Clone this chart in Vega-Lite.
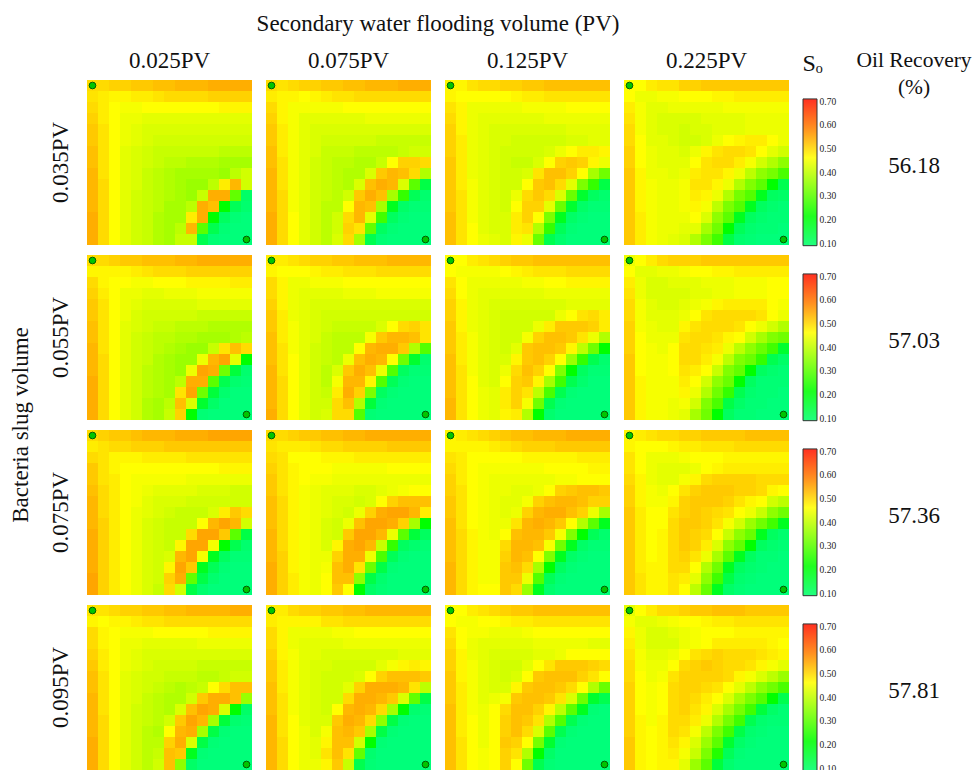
{
"$schema":"https://vega.github.io/schema/vega-lite/v6.json",
"padding":{"left":9,"top":13,"right":0,"bottom":0},
"background":"white",
"config":{"view":{"stroke":null},"font":"Liberation Serif","concat":{"spacing":13}},
"hconcat":[
{
"data":{"values":[
0.50,0.50,0.51,0.51,0.52,0.52,0.53,0.53,0.54,0.54,0.54,0.55,0.55,0.55,0.55,
0.49,0.48,0.47,0.47,0.48,0.48,0.49,0.50,0.50,0.50,0.50,0.51,0.51,0.51,0.51,
0.50,0.48,0.46,0.45,0.45,0.46,0.46,0.46,0.46,0.46,0.46,0.46,0.47,0.47,0.47,
0.51,0.48,0.46,0.44,0.44,0.43,0.43,0.43,0.43,0.43,0.43,0.43,0.43,0.43,0.43,
0.52,0.49,0.46,0.44,0.43,0.42,0.42,0.42,0.42,0.42,0.42,0.42,0.42,0.42,0.42,
0.52,0.49,0.46,0.44,0.43,0.42,0.41,0.41,0.41,0.41,0.41,0.41,0.41,0.41,0.41,
0.53,0.49,0.46,0.43,0.42,0.41,0.40,0.40,0.40,0.40,0.40,0.40,0.39,0.39,0.39,
0.53,0.49,0.46,0.43,0.42,0.41,0.40,0.39,0.39,0.38,0.38,0.38,0.37,0.37,0.37,
0.54,0.49,0.46,0.43,0.42,0.40,0.39,0.38,0.37,0.37,0.37,0.37,0.36,0.39,0.41,
0.54,0.50,0.46,0.43,0.42,0.40,0.39,0.38,0.37,0.36,0.36,0.39,0.48,0.54,0.41,
0.54,0.50,0.46,0.43,0.41,0.40,0.39,0.38,0.37,0.36,0.40,0.55,0.55,0.29,0.14,
0.54,0.50,0.46,0.43,0.41,0.40,0.39,0.37,0.37,0.39,0.55,0.53,0.22,0.16,0.13,
0.55,0.50,0.46,0.43,0.41,0.40,0.38,0.37,0.37,0.48,0.55,0.22,0.15,0.12,0.11,
0.55,0.50,0.46,0.43,0.41,0.40,0.38,0.37,0.39,0.54,0.28,0.17,0.12,0.11,0.11,
0.55,0.50,0.46,0.43,0.41,0.40,0.38,0.37,0.40,0.40,0.17,0.12,0.11,0.11,0.11,

0.50,0.49,0.50,0.51,0.51,0.52,0.52,0.53,0.53,0.54,0.54,0.54,0.55,0.55,0.55,
0.48,0.47,0.47,0.46,0.47,0.48,0.49,0.49,0.50,0.50,0.50,0.50,0.50,0.50,0.50,
0.50,0.47,0.45,0.45,0.45,0.45,0.45,0.46,0.46,0.46,0.46,0.46,0.46,0.46,0.46,
0.51,0.47,0.45,0.43,0.43,0.43,0.43,0.43,0.43,0.44,0.44,0.44,0.44,0.44,0.44,
0.52,0.48,0.45,0.43,0.42,0.42,0.42,0.42,0.42,0.42,0.42,0.42,0.42,0.42,0.42,
0.52,0.48,0.45,0.43,0.42,0.41,0.41,0.41,0.41,0.41,0.40,0.40,0.40,0.40,0.40,
0.53,0.48,0.45,0.43,0.42,0.40,0.40,0.40,0.39,0.39,0.39,0.39,0.40,0.41,0.41,
0.53,0.49,0.45,0.43,0.41,0.40,0.39,0.39,0.38,0.38,0.40,0.46,0.51,0.51,0.50,
0.54,0.49,0.45,0.43,0.41,0.40,0.39,0.38,0.38,0.42,0.52,0.54,0.53,0.50,0.38,
0.54,0.49,0.45,0.43,0.41,0.40,0.39,0.38,0.42,0.53,0.55,0.54,0.42,0.28,0.18,
0.54,0.50,0.45,0.43,0.41,0.40,0.39,0.41,0.52,0.55,0.53,0.37,0.24,0.16,0.13,
0.54,0.50,0.45,0.43,0.41,0.39,0.39,0.46,0.54,0.53,0.37,0.21,0.14,0.12,0.12,
0.55,0.50,0.46,0.43,0.41,0.39,0.41,0.50,0.54,0.43,0.25,0.15,0.12,0.11,0.11,
0.55,0.50,0.46,0.43,0.41,0.39,0.41,0.51,0.49,0.29,0.15,0.12,0.11,0.11,0.11,
0.55,0.50,0.46,0.43,0.41,0.39,0.42,0.50,0.37,0.17,0.12,0.11,0.11,0.11,0.11,

0.47,0.47,0.49,0.50,0.50,0.51,0.51,0.52,0.52,0.53,0.53,0.53,0.53,0.53,0.53,
0.47,0.46,0.46,0.46,0.46,0.46,0.47,0.48,0.48,0.49,0.49,0.49,0.49,0.49,0.49,
0.49,0.47,0.44,0.44,0.44,0.44,0.44,0.45,0.45,0.45,0.45,0.46,0.46,0.46,0.46,
0.50,0.47,0.44,0.43,0.43,0.43,0.43,0.43,0.43,0.44,0.44,0.44,0.44,0.44,0.44,
0.51,0.47,0.44,0.43,0.42,0.42,0.42,0.42,0.42,0.42,0.42,0.43,0.43,0.43,0.43,
0.51,0.48,0.44,0.43,0.42,0.42,0.41,0.41,0.41,0.41,0.41,0.42,0.42,0.43,0.43,
0.51,0.48,0.44,0.43,0.42,0.41,0.41,0.41,0.41,0.42,0.44,0.46,0.48,0.48,0.47,
0.52,0.48,0.44,0.43,0.42,0.41,0.40,0.40,0.42,0.46,0.51,0.52,0.51,0.47,0.44,
0.52,0.48,0.44,0.43,0.42,0.41,0.41,0.42,0.49,0.53,0.53,0.51,0.46,0.37,0.31,
0.52,0.48,0.45,0.43,0.42,0.41,0.41,0.46,0.52,0.53,0.50,0.43,0.33,0.24,0.18,
0.52,0.49,0.45,0.43,0.42,0.41,0.44,0.50,0.52,0.50,0.42,0.30,0.20,0.15,0.13,
0.52,0.49,0.45,0.43,0.42,0.41,0.46,0.51,0.51,0.43,0.30,0.20,0.14,0.12,0.12,
0.53,0.49,0.45,0.43,0.42,0.42,0.48,0.51,0.46,0.33,0.21,0.14,0.12,0.11,0.11,
0.53,0.49,0.46,0.43,0.42,0.42,0.48,0.49,0.38,0.24,0.16,0.12,0.11,0.11,0.11,
0.53,0.49,0.46,0.44,0.43,0.42,0.47,0.44,0.30,0.17,0.13,0.11,0.11,0.11,0.11,

0.46,0.46,0.48,0.49,0.49,0.51,0.51,0.52,0.52,0.52,0.52,0.52,0.52,0.52,0.52,
0.46,0.44,0.44,0.45,0.45,0.46,0.46,0.46,0.47,0.47,0.48,0.48,0.48,0.48,0.48,
0.48,0.45,0.43,0.43,0.44,0.44,0.44,0.44,0.44,0.45,0.45,0.45,0.45,0.45,0.45,
0.49,0.45,0.43,0.42,0.42,0.42,0.42,0.43,0.43,0.43,0.43,0.44,0.44,0.44,0.44,
0.50,0.45,0.43,0.42,0.42,0.41,0.42,0.42,0.43,0.43,0.43,0.44,0.44,0.44,0.44,
0.50,0.46,0.43,0.43,0.42,0.41,0.41,0.42,0.44,0.46,0.47,0.48,0.48,0.46,0.44,
0.51,0.46,0.44,0.43,0.43,0.42,0.44,0.47,0.49,0.50,0.50,0.49,0.46,0.43,0.41,
0.51,0.46,0.44,0.43,0.43,0.43,0.46,0.49,0.50,0.50,0.48,0.45,0.41,0.38,0.35,
0.52,0.47,0.44,0.44,0.43,0.44,0.48,0.49,0.49,0.47,0.44,0.39,0.35,0.32,0.26,
0.52,0.47,0.45,0.44,0.44,0.45,0.49,0.49,0.47,0.44,0.38,0.34,0.28,0.22,0.17,
0.52,0.47,0.45,0.44,0.44,0.45,0.48,0.47,0.44,0.38,0.32,0.27,0.21,0.15,0.14,
0.52,0.47,0.45,0.44,0.44,0.45,0.47,0.45,0.39,0.33,0.27,0.21,0.15,0.13,0.12,
0.52,0.48,0.45,0.44,0.44,0.44,0.46,0.42,0.35,0.28,0.21,0.15,0.13,0.12,0.12,
0.52,0.48,0.45,0.44,0.44,0.43,0.43,0.37,0.31,0.22,0.16,0.13,0.12,0.12,0.11,
0.52,0.48,0.45,0.44,0.43,0.42,0.38,0.33,0.25,0.18,0.13,0.12,0.11,0.11,0.11,

0.50,0.50,0.51,0.52,0.52,0.53,0.53,0.53,0.54,0.54,0.55,0.55,0.55,0.55,0.55,
0.47,0.47,0.47,0.47,0.48,0.49,0.50,0.50,0.50,0.51,0.51,0.51,0.51,0.51,0.51,
0.50,0.47,0.46,0.46,0.45,0.45,0.46,0.46,0.46,0.47,0.47,0.47,0.47,0.48,0.48,
0.51,0.48,0.46,0.44,0.44,0.43,0.43,0.44,0.44,0.44,0.45,0.45,0.45,0.45,0.45,
0.52,0.49,0.46,0.44,0.43,0.42,0.42,0.42,0.42,0.42,0.43,0.43,0.43,0.43,0.43,
0.52,0.49,0.46,0.44,0.42,0.41,0.41,0.41,0.41,0.41,0.40,0.40,0.40,0.40,0.40,
0.53,0.49,0.46,0.43,0.42,0.41,0.40,0.40,0.39,0.39,0.39,0.38,0.38,0.38,0.38,
0.53,0.49,0.46,0.43,0.41,0.40,0.39,0.39,0.38,0.38,0.37,0.37,0.37,0.38,0.39,
0.54,0.49,0.46,0.43,0.41,0.40,0.39,0.38,0.37,0.36,0.36,0.40,0.49,0.53,0.50,
0.54,0.50,0.46,0.43,0.41,0.40,0.38,0.37,0.36,0.36,0.44,0.54,0.56,0.43,0.22,
0.54,0.50,0.46,0.43,0.41,0.39,0.38,0.37,0.36,0.44,0.56,0.55,0.31,0.19,0.13,
0.55,0.50,0.46,0.43,0.41,0.39,0.38,0.37,0.39,0.55,0.55,0.28,0.17,0.13,0.12,
0.55,0.50,0.46,0.43,0.41,0.39,0.38,0.37,0.49,0.56,0.31,0.19,0.13,0.11,0.11,
0.55,0.50,0.46,0.43,0.41,0.38,0.37,0.39,0.53,0.42,0.20,0.14,0.11,0.11,0.11,
0.55,0.50,0.46,0.43,0.41,0.38,0.37,0.40,0.51,0.22,0.12,0.11,0.11,0.11,0.11,

0.48,0.48,0.49,0.50,0.51,0.51,0.52,0.52,0.53,0.53,0.53,0.54,0.54,0.54,0.54,
0.47,0.46,0.46,0.46,0.47,0.48,0.48,0.49,0.49,0.49,0.50,0.50,0.50,0.50,0.50,
0.50,0.47,0.44,0.44,0.45,0.45,0.45,0.46,0.46,0.46,0.46,0.46,0.46,0.46,0.46,
0.50,0.47,0.44,0.43,0.43,0.43,0.43,0.44,0.44,0.44,0.45,0.45,0.45,0.45,0.45,
0.51,0.47,0.44,0.43,0.42,0.42,0.42,0.42,0.42,0.42,0.42,0.42,0.42,0.42,0.42,
0.52,0.48,0.44,0.43,0.42,0.41,0.41,0.41,0.41,0.41,0.41,0.41,0.41,0.41,0.41,
0.52,0.48,0.45,0.43,0.42,0.41,0.40,0.40,0.40,0.40,0.42,0.46,0.50,0.51,0.49,
0.53,0.48,0.45,0.43,0.42,0.40,0.39,0.39,0.39,0.45,0.52,0.54,0.54,0.53,0.49,
0.53,0.49,0.45,0.43,0.41,0.40,0.39,0.39,0.46,0.54,0.55,0.55,0.52,0.38,0.27,
0.53,0.49,0.46,0.43,0.41,0.40,0.39,0.44,0.53,0.55,0.54,0.46,0.31,0.20,0.13,
0.54,0.49,0.46,0.43,0.41,0.39,0.42,0.52,0.55,0.53,0.44,0.27,0.15,0.12,0.12,
0.54,0.50,0.46,0.43,0.41,0.39,0.45,0.54,0.54,0.47,0.27,0.16,0.12,0.11,0.11,
0.54,0.50,0.46,0.43,0.41,0.40,0.48,0.55,0.51,0.33,0.15,0.12,0.11,0.11,0.11,
0.54,0.50,0.46,0.43,0.41,0.41,0.50,0.53,0.38,0.19,0.12,0.11,0.11,0.11,0.11,
0.55,0.50,0.46,0.43,0.41,0.42,0.50,0.50,0.27,0.12,0.11,0.11,0.11,0.11,0.11,

0.46,0.46,0.48,0.49,0.50,0.51,0.52,0.52,0.53,0.53,0.53,0.53,0.53,0.53,0.53,
0.46,0.45,0.45,0.45,0.45,0.46,0.47,0.48,0.49,0.49,0.49,0.50,0.50,0.50,0.50,
0.49,0.46,0.44,0.44,0.44,0.44,0.44,0.45,0.45,0.46,0.46,0.47,0.47,0.47,0.47,
0.50,0.46,0.44,0.43,0.43,0.43,0.43,0.43,0.43,0.44,0.44,0.44,0.44,0.44,0.44,
0.51,0.47,0.44,0.43,0.42,0.42,0.42,0.42,0.42,0.42,0.42,0.43,0.43,0.43,0.43,
0.51,0.47,0.44,0.43,0.42,0.41,0.41,0.41,0.41,0.41,0.44,0.46,0.49,0.50,0.48,
0.52,0.47,0.44,0.43,0.42,0.41,0.41,0.41,0.44,0.48,0.52,0.52,0.52,0.51,0.48,
0.52,0.48,0.45,0.43,0.42,0.41,0.41,0.45,0.51,0.53,0.53,0.52,0.49,0.44,0.38,
0.52,0.48,0.45,0.43,0.42,0.41,0.43,0.52,0.53,0.53,0.52,0.47,0.39,0.31,0.22,
0.53,0.48,0.45,0.43,0.42,0.42,0.47,0.52,0.53,0.51,0.46,0.36,0.24,0.17,0.13,
0.53,0.49,0.45,0.43,0.42,0.44,0.50,0.53,0.51,0.46,0.34,0.22,0.15,0.12,0.12,
0.53,0.49,0.46,0.43,0.42,0.46,0.51,0.52,0.47,0.37,0.25,0.17,0.13,0.11,0.11,
0.53,0.49,0.46,0.44,0.43,0.48,0.51,0.49,0.39,0.26,0.17,0.12,0.11,0.11,0.11,
0.54,0.49,0.46,0.44,0.43,0.48,0.51,0.45,0.31,0.17,0.12,0.11,0.11,0.11,0.11,
0.54,0.49,0.46,0.44,0.43,0.47,0.48,0.38,0.22,0.13,0.11,0.11,0.11,0.11,0.11,

0.44,0.46,0.48,0.50,0.51,0.51,0.51,0.52,0.52,0.52,0.52,0.52,0.52,0.52,0.52,
0.46,0.43,0.43,0.44,0.44,0.45,0.46,0.46,0.47,0.47,0.48,0.48,0.48,0.48,0.48,
0.48,0.44,0.42,0.42,0.43,0.43,0.43,0.44,0.44,0.44,0.45,0.45,0.45,0.46,0.46,
0.49,0.44,0.42,0.42,0.42,0.42,0.43,0.43,0.44,0.44,0.45,0.45,0.45,0.46,0.46,
0.50,0.45,0.43,0.42,0.42,0.43,0.44,0.45,0.47,0.48,0.48,0.48,0.48,0.46,0.45,
0.50,0.45,0.43,0.43,0.43,0.44,0.46,0.49,0.50,0.50,0.50,0.50,0.49,0.46,0.44,
0.51,0.45,0.44,0.43,0.43,0.47,0.49,0.50,0.50,0.50,0.49,0.46,0.44,0.41,0.38,
0.51,0.46,0.44,0.44,0.44,0.49,0.50,0.50,0.49,0.47,0.46,0.41,0.37,0.34,0.31,
0.51,0.46,0.45,0.44,0.46,0.50,0.50,0.49,0.48,0.44,0.39,0.35,0.30,0.25,0.20,
0.52,0.46,0.45,0.45,0.46,0.50,0.50,0.48,0.45,0.39,0.34,0.30,0.24,0.17,0.14,
0.52,0.46,0.45,0.45,0.46,0.49,0.48,0.46,0.40,0.34,0.29,0.22,0.15,0.13,0.12,
0.52,0.47,0.45,0.45,0.45,0.48,0.46,0.41,0.35,0.30,0.22,0.15,0.12,0.12,0.12,
0.52,0.47,0.45,0.45,0.45,0.47,0.44,0.38,0.31,0.24,0.17,0.13,0.12,0.12,0.11,
0.52,0.47,0.45,0.45,0.44,0.45,0.41,0.34,0.26,0.18,0.14,0.12,0.12,0.11,0.11,
0.52,0.47,0.45,0.45,0.44,0.43,0.37,0.31,0.22,0.15,0.12,0.12,0.11,0.11,0.11,

0.50,0.51,0.52,0.52,0.53,0.54,0.54,0.54,0.55,0.55,0.55,0.56,0.56,0.56,0.56,
0.48,0.49,0.50,0.50,0.51,0.51,0.51,0.52,0.52,0.52,0.52,0.52,0.52,0.52,0.52,
0.50,0.49,0.47,0.47,0.47,0.48,0.48,0.48,0.48,0.49,0.49,0.49,0.49,0.49,0.49,
0.52,0.49,0.47,0.46,0.46,0.46,0.46,0.46,0.46,0.46,0.46,0.46,0.47,0.47,0.47,
0.52,0.49,0.48,0.46,0.45,0.45,0.45,0.45,0.45,0.44,0.44,0.44,0.44,0.44,0.44,
0.53,0.50,0.48,0.46,0.45,0.44,0.43,0.43,0.43,0.43,0.42,0.42,0.42,0.41,0.41,
0.54,0.50,0.48,0.46,0.45,0.43,0.42,0.42,0.42,0.41,0.41,0.41,0.41,0.41,0.41,
0.54,0.50,0.48,0.46,0.44,0.43,0.42,0.41,0.40,0.40,0.40,0.42,0.48,0.52,0.50,
0.54,0.51,0.48,0.46,0.44,0.42,0.41,0.40,0.40,0.40,0.46,0.54,0.56,0.54,0.41,
0.55,0.51,0.48,0.46,0.44,0.42,0.41,0.40,0.40,0.50,0.56,0.56,0.52,0.28,0.18,
0.55,0.51,0.48,0.46,0.44,0.42,0.41,0.40,0.47,0.56,0.56,0.45,0.22,0.17,0.13,
0.55,0.51,0.48,0.46,0.44,0.42,0.41,0.42,0.54,0.56,0.45,0.21,0.15,0.12,0.12,
0.55,0.51,0.48,0.46,0.44,0.42,0.41,0.47,0.56,0.52,0.21,0.16,0.12,0.11,0.11,
0.56,0.51,0.48,0.46,0.44,0.42,0.41,0.51,0.55,0.29,0.18,0.13,0.11,0.11,0.11,
0.56,0.51,0.48,0.46,0.44,0.42,0.40,0.50,0.41,0.18,0.13,0.11,0.11,0.11,0.11,

0.50,0.50,0.51,0.52,0.52,0.53,0.53,0.54,0.54,0.55,0.55,0.55,0.55,0.55,0.55,
0.49,0.48,0.48,0.48,0.49,0.50,0.50,0.51,0.51,0.51,0.51,0.52,0.52,0.52,0.52,
0.50,0.49,0.46,0.46,0.46,0.47,0.47,0.47,0.48,0.48,0.48,0.48,0.48,0.48,0.48,
0.51,0.49,0.47,0.46,0.46,0.46,0.45,0.45,0.45,0.45,0.45,0.46,0.46,0.46,0.46,
0.52,0.49,0.47,0.46,0.45,0.45,0.44,0.44,0.44,0.44,0.44,0.44,0.44,0.44,0.44,
0.52,0.49,0.47,0.45,0.44,0.43,0.43,0.43,0.42,0.42,0.43,0.44,0.45,0.46,0.46,
0.53,0.50,0.47,0.45,0.44,0.43,0.42,0.42,0.41,0.42,0.46,0.51,0.53,0.53,0.53,
0.53,0.50,0.47,0.45,0.44,0.43,0.42,0.41,0.44,0.51,0.55,0.56,0.56,0.54,0.48,
0.53,0.50,0.47,0.45,0.44,0.42,0.41,0.44,0.53,0.56,0.56,0.55,0.51,0.37,0.22,
0.54,0.50,0.47,0.45,0.44,0.42,0.41,0.52,0.56,0.56,0.54,0.44,0.28,0.19,0.15,
0.54,0.50,0.47,0.45,0.44,0.42,0.47,0.55,0.56,0.54,0.40,0.24,0.15,0.13,0.12,
0.54,0.51,0.47,0.45,0.44,0.44,0.51,0.55,0.55,0.44,0.26,0.16,0.12,0.11,0.11,
0.55,0.51,0.47,0.45,0.44,0.45,0.53,0.55,0.49,0.30,0.18,0.12,0.11,0.11,0.11,
0.55,0.51,0.48,0.45,0.44,0.46,0.53,0.53,0.35,0.18,0.13,0.11,0.11,0.11,0.11,
0.55,0.51,0.48,0.45,0.44,0.46,0.52,0.46,0.22,0.14,0.12,0.11,0.11,0.11,0.11,

0.47,0.48,0.49,0.50,0.51,0.52,0.53,0.53,0.54,0.54,0.54,0.55,0.55,0.55,0.55,
0.47,0.47,0.47,0.47,0.48,0.49,0.50,0.51,0.51,0.51,0.52,0.52,0.52,0.52,0.52,
0.49,0.48,0.46,0.46,0.46,0.46,0.46,0.47,0.47,0.47,0.47,0.47,0.48,0.48,0.48,
0.50,0.48,0.46,0.45,0.45,0.45,0.45,0.45,0.45,0.46,0.46,0.46,0.46,0.47,0.47,
0.51,0.48,0.46,0.45,0.44,0.44,0.44,0.44,0.44,0.44,0.45,0.45,0.46,0.46,0.46,
0.51,0.49,0.46,0.45,0.44,0.44,0.43,0.43,0.44,0.46,0.51,0.52,0.53,0.53,0.52,
0.52,0.49,0.46,0.45,0.44,0.43,0.43,0.45,0.51,0.53,0.54,0.54,0.53,0.51,0.51,
0.52,0.49,0.46,0.45,0.44,0.43,0.44,0.51,0.54,0.55,0.55,0.53,0.51,0.44,0.37,
0.53,0.49,0.46,0.45,0.44,0.44,0.49,0.54,0.55,0.54,0.52,0.46,0.38,0.28,0.21,
0.53,0.50,0.47,0.45,0.44,0.46,0.53,0.54,0.54,0.52,0.45,0.34,0.22,0.16,0.13,
0.53,0.50,0.47,0.45,0.45,0.50,0.54,0.54,0.53,0.45,0.31,0.21,0.14,0.12,0.12,
0.53,0.50,0.47,0.45,0.45,0.51,0.54,0.53,0.46,0.34,0.21,0.14,0.12,0.11,0.11,
0.54,0.50,0.47,0.45,0.45,0.52,0.53,0.50,0.37,0.22,0.15,0.12,0.11,0.11,0.11,
0.54,0.50,0.47,0.45,0.45,0.52,0.52,0.44,0.27,0.16,0.12,0.11,0.11,0.11,0.11,
0.54,0.50,0.47,0.46,0.46,0.52,0.50,0.36,0.21,0.13,0.11,0.11,0.11,0.11,0.11,

0.47,0.48,0.49,0.50,0.50,0.51,0.51,0.52,0.52,0.52,0.52,0.53,0.53,0.53,0.53,
0.47,0.46,0.46,0.46,0.47,0.48,0.48,0.49,0.49,0.49,0.50,0.50,0.50,0.50,0.50,
0.49,0.46,0.44,0.44,0.44,0.45,0.46,0.46,0.46,0.47,0.47,0.47,0.47,0.47,0.47,
0.49,0.46,0.44,0.43,0.43,0.43,0.44,0.46,0.47,0.48,0.48,0.48,0.48,0.48,0.48,
0.50,0.47,0.44,0.43,0.43,0.45,0.47,0.50,0.51,0.51,0.51,0.51,0.50,0.50,0.50,
0.51,0.47,0.45,0.44,0.46,0.49,0.51,0.52,0.52,0.52,0.51,0.51,0.50,0.47,0.46,
0.51,0.47,0.45,0.45,0.47,0.51,0.52,0.52,0.52,0.51,0.49,0.47,0.46,0.41,0.39,
0.52,0.48,0.46,0.46,0.49,0.51,0.52,0.51,0.50,0.49,0.46,0.44,0.40,0.35,0.31,
0.52,0.48,0.46,0.46,0.50,0.52,0.52,0.51,0.49,0.45,0.41,0.36,0.31,0.25,0.21,
0.52,0.48,0.46,0.47,0.50,0.52,0.51,0.50,0.46,0.40,0.35,0.30,0.21,0.15,0.13,
0.52,0.48,0.46,0.47,0.50,0.52,0.51,0.48,0.42,0.35,0.29,0.22,0.15,0.13,0.12,
0.52,0.48,0.46,0.47,0.50,0.51,0.49,0.44,0.37,0.28,0.21,0.15,0.12,0.12,0.11,
0.52,0.48,0.47,0.47,0.50,0.50,0.46,0.38,0.31,0.21,0.15,0.13,0.12,0.11,0.11,
0.52,0.49,0.47,0.47,0.49,0.48,0.43,0.35,0.25,0.18,0.13,0.12,0.11,0.11,0.11,
0.52,0.49,0.47,0.47,0.49,0.46,0.39,0.30,0.21,0.14,0.12,0.11,0.11,0.11,0.11,

0.49,0.49,0.50,0.51,0.51,0.52,0.52,0.53,0.53,0.54,0.54,0.54,0.54,0.55,0.55,
0.47,0.46,0.47,0.47,0.48,0.49,0.49,0.50,0.50,0.50,0.50,0.50,0.50,0.50,0.50,
0.50,0.47,0.46,0.45,0.45,0.45,0.46,0.46,0.46,0.46,0.46,0.47,0.47,0.47,0.47,
0.50,0.47,0.46,0.44,0.44,0.43,0.43,0.43,0.43,0.43,0.44,0.44,0.44,0.44,0.44,
0.51,0.48,0.46,0.44,0.43,0.42,0.42,0.42,0.42,0.42,0.42,0.42,0.42,0.42,0.42,
0.52,0.48,0.46,0.44,0.43,0.42,0.41,0.41,0.41,0.41,0.40,0.40,0.40,0.40,0.40,
0.53,0.49,0.46,0.43,0.42,0.41,0.41,0.40,0.40,0.40,0.39,0.39,0.40,0.41,0.41,
0.53,0.49,0.46,0.43,0.42,0.41,0.40,0.39,0.38,0.39,0.40,0.46,0.50,0.53,0.53,
0.54,0.49,0.46,0.43,0.42,0.40,0.39,0.38,0.38,0.41,0.52,0.55,0.55,0.53,0.36,
0.54,0.49,0.46,0.43,0.41,0.40,0.39,0.38,0.42,0.53,0.56,0.55,0.42,0.22,0.14,
0.54,0.50,0.46,0.43,0.41,0.40,0.39,0.41,0.52,0.56,0.54,0.37,0.19,0.13,0.12,
0.54,0.50,0.46,0.43,0.41,0.39,0.38,0.46,0.54,0.55,0.37,0.18,0.12,0.11,0.11,
0.55,0.50,0.46,0.43,0.41,0.39,0.39,0.51,0.55,0.42,0.18,0.12,0.11,0.11,0.11,
0.55,0.50,0.46,0.43,0.41,0.39,0.40,0.53,0.52,0.21,0.12,0.11,0.11,0.11,0.11,
0.55,0.50,0.46,0.43,0.41,0.39,0.41,0.53,0.35,0.14,0.11,0.11,0.11,0.11,0.11,

0.48,0.48,0.50,0.51,0.51,0.52,0.52,0.53,0.53,0.54,0.54,0.54,0.54,0.54,0.54,
0.48,0.47,0.47,0.47,0.47,0.49,0.49,0.50,0.50,0.50,0.50,0.50,0.50,0.50,0.50,
0.50,0.47,0.44,0.44,0.44,0.44,0.45,0.45,0.46,0.46,0.46,0.46,0.46,0.46,0.46,
0.50,0.47,0.44,0.43,0.43,0.43,0.43,0.44,0.44,0.44,0.44,0.44,0.44,0.44,0.44,
0.51,0.47,0.45,0.43,0.43,0.42,0.42,0.42,0.42,0.42,0.42,0.42,0.43,0.43,0.43,
0.52,0.48,0.45,0.43,0.42,0.42,0.41,0.41,0.41,0.41,0.43,0.45,0.47,0.48,0.47,
0.52,0.48,0.45,0.43,0.42,0.41,0.41,0.41,0.42,0.46,0.51,0.53,0.53,0.53,0.52,
0.53,0.48,0.45,0.43,0.42,0.41,0.41,0.43,0.51,0.55,0.55,0.55,0.54,0.49,0.39,
0.53,0.49,0.45,0.43,0.42,0.41,0.41,0.50,0.55,0.55,0.54,0.52,0.42,0.29,0.18,
0.53,0.49,0.45,0.43,0.42,0.41,0.46,0.54,0.55,0.54,0.50,0.37,0.22,0.13,0.12,
0.54,0.49,0.46,0.43,0.42,0.42,0.52,0.55,0.54,0.50,0.35,0.18,0.12,0.11,0.11,
0.54,0.49,0.46,0.44,0.42,0.45,0.53,0.54,0.52,0.37,0.18,0.12,0.11,0.11,0.11,
0.54,0.50,0.46,0.44,0.43,0.47,0.53,0.53,0.41,0.22,0.12,0.11,0.11,0.11,0.11,
0.54,0.50,0.46,0.44,0.43,0.49,0.53,0.49,0.29,0.13,0.11,0.11,0.11,0.11,0.11,
0.54,0.50,0.46,0.44,0.44,0.47,0.52,0.40,0.17,0.12,0.11,0.11,0.11,0.11,0.11,

0.46,0.46,0.48,0.49,0.50,0.51,0.52,0.52,0.53,0.53,0.53,0.53,0.53,0.53,0.53,
0.46,0.45,0.45,0.46,0.46,0.47,0.48,0.48,0.49,0.49,0.49,0.49,0.49,0.49,0.49,
0.49,0.46,0.45,0.45,0.44,0.44,0.44,0.45,0.46,0.46,0.46,0.46,0.46,0.46,0.46,
0.50,0.46,0.44,0.43,0.43,0.43,0.43,0.43,0.44,0.44,0.44,0.44,0.44,0.43,0.43,
0.51,0.47,0.44,0.43,0.42,0.42,0.42,0.42,0.43,0.43,0.44,0.46,0.46,0.46,0.46,
0.51,0.47,0.45,0.43,0.42,0.41,0.41,0.43,0.46,0.49,0.52,0.52,0.52,0.51,0.50,
0.52,0.47,0.45,0.43,0.42,0.41,0.42,0.46,0.52,0.53,0.53,0.53,0.51,0.49,0.46,
0.52,0.48,0.45,0.43,0.42,0.42,0.47,0.52,0.53,0.53,0.52,0.50,0.46,0.38,0.30,
0.52,0.48,0.45,0.43,0.44,0.45,0.52,0.53,0.53,0.52,0.49,0.42,0.31,0.20,0.17,
0.53,0.48,0.45,0.44,0.46,0.50,0.53,0.53,0.51,0.47,0.39,0.28,0.21,0.12,0.11,
0.53,0.48,0.46,0.44,0.46,0.51,0.53,0.52,0.49,0.38,0.27,0.17,0.12,0.11,0.11,
0.53,0.48,0.46,0.44,0.46,0.51,0.53,0.50,0.42,0.28,0.17,0.12,0.11,0.11,0.11,
0.53,0.49,0.46,0.44,0.46,0.52,0.51,0.46,0.32,0.20,0.12,0.11,0.11,0.11,0.11,
0.53,0.49,0.46,0.45,0.46,0.51,0.49,0.38,0.22,0.14,0.11,0.11,0.11,0.11,0.11,
0.53,0.49,0.46,0.45,0.46,0.51,0.46,0.31,0.17,0.12,0.11,0.11,0.11,0.11,0.11,

0.43,0.46,0.48,0.50,0.50,0.51,0.52,0.52,0.53,0.53,0.53,0.52,0.52,0.52,0.52,
0.45,0.43,0.43,0.44,0.45,0.46,0.46,0.47,0.48,0.48,0.49,0.49,0.49,0.49,0.49,
0.47,0.44,0.42,0.42,0.43,0.44,0.45,0.46,0.46,0.46,0.47,0.47,0.47,0.47,0.47,
0.48,0.44,0.42,0.42,0.42,0.44,0.45,0.46,0.48,0.48,0.48,0.48,0.48,0.47,0.46,
0.49,0.45,0.43,0.43,0.44,0.46,0.49,0.50,0.51,0.50,0.50,0.50,0.49,0.48,0.47,
0.50,0.45,0.44,0.44,0.46,0.50,0.51,0.52,0.51,0.50,0.50,0.49,0.47,0.45,0.43,
0.50,0.46,0.44,0.45,0.49,0.51,0.51,0.51,0.51,0.50,0.47,0.45,0.42,0.39,0.36,
0.51,0.46,0.45,0.46,0.50,0.51,0.51,0.50,0.49,0.46,0.43,0.39,0.35,0.31,0.26,
0.51,0.46,0.45,0.46,0.50,0.51,0.50,0.48,0.46,0.42,0.37,0.33,0.27,0.22,0.17,
0.51,0.46,0.45,0.46,0.50,0.51,0.49,0.47,0.42,0.37,0.32,0.25,0.19,0.14,0.12,
0.51,0.47,0.45,0.47,0.50,0.50,0.48,0.44,0.38,0.32,0.25,0.17,0.13,0.12,0.12,
0.51,0.47,0.46,0.47,0.50,0.49,0.45,0.39,0.33,0.25,0.18,0.13,0.12,0.11,0.11,
0.52,0.47,0.46,0.47,0.49,0.47,0.42,0.36,0.28,0.20,0.14,0.12,0.11,0.11,0.11,
0.52,0.47,0.46,0.47,0.48,0.45,0.40,0.33,0.23,0.16,0.12,0.11,0.11,0.11,0.11,
0.52,0.47,0.46,0.47,0.47,0.43,0.36,0.28,0.19,0.13,0.11,0.11,0.11,0.11,0.11
]},
"transform":[
{"window":[{"op":"ntile","param":4,"as":"slug"}]},
{"window":[{"op":"ntile","param":4,"as":"flood"}],"groupby":["slug"]},
{"window":[{"op":"ntile","param":15,"as":"j"}],"groupby":["slug","flood"]},
{"window":[{"op":"row_number","as":"i"}],"groupby":["slug","flood","j"]}
],
"facet":{
"column":{"field":"flood","type":"ordinal","title":"Secondary water flooding volume (PV)",
"header":{"titleFontSize":23,"titleFont":"Liberation Serif","titleColor":"#111","titleFontWeight":"normal","titlePadding":4,
"labelFontSize":23,"labelFont":"Liberation Serif","labelColor":"#111","labelPadding":7,
"labelExpr":"['0.025PV','0.075PV','0.125PV','0.225PV'][datum.value-1]"}},
"row":{"field":"slug","type":"ordinal","title":"Bacteria slug volume",
"header":{"titleFontSize":23,"titleFont":"Liberation Serif","titleColor":"#111","titleFontWeight":"normal","titlePadding":6,
"labelFontSize":23,"labelFont":"Liberation Serif","labelColor":"#111","labelPadding":14,
"labelExpr":"['0.035PV','0.055PV','0.075PV','0.095PV'][datum.value-1]"}}
},
"spacing":{"column":14,"row":10},
"spec":{
"width":165,"height":165,
"layer":[
{"mark":{"type":"rect"},
"encoding":{
"x":{"field":"i","type":"ordinal","axis":null,"scale":{"paddingInner":0,"paddingOuter":0}},
"y":{"field":"j","type":"ordinal","axis":null,"scale":{"paddingInner":0,"paddingOuter":0}},
"color":{"field":"data","type":"quantitative","legend":null,
"scale":{"domain":[0.1,0.22,0.34,0.46,0.6,0.7],"range":["#00ff80","#00ff00","#80ff00","#ffff00","#ff8000","#ff0000"]}}
}},
{"transform":[{"filter":"(datum.i==1&&datum.j==1)||(datum.i==15&&datum.j==15)"}],
"mark":{"type":"point","filled":true,"fill":"#00c400","stroke":"#005f00","strokeWidth":1,"size":45,"opacity":1},
"encoding":{
"x":{"field":"i","type":"ordinal","axis":null},
"y":{"field":"j","type":"ordinal","axis":null}
}}
]}
},
{"title":{"text":"Sₒ","font":"Liberation Serif","fontSize":24,"fontWeight":"normal","color":"#111","anchor":"start","offset":4},
"spacing":0,"vconcat":[
{"width":14,"height":175,"data":{"values":[{"lo":0.09,"hi":0.71}]},
"mark":{"type":"rect","stroke":"#333","strokeWidth":1,"color":{"gradient":"linear","x1":0,"y1":1,"x2":0,"y2":0,"stops":[{"offset":0,"color":"#20ff80"},{"offset":0.2,"color":"#20ff20"},{"offset":0.4,"color":"#90ff20"},{"offset":0.6,"color":"#ffff20"},{"offset":0.8,"color":"#ff9020"},{"offset":1,"color":"#ff3020"}]}},
"encoding":{"y":{"field":"lo","type":"quantitative","scale":{"domain":[0.0506,0.79],"nice":false,"zero":false},"axis":{"orient":"right","values":[0.1,0.2,0.3,0.4,0.5,0.6,0.7],"format":".2f","domain":false,"ticks":false,"grid":false,"title":null,"labelFont":"Liberation Serif","labelFontSize":9.5,"labelColor":"#222","labelPadding":2}},"y2":{"field":"hi"}}},
{"width":14,"height":175,"data":{"values":[{"lo":0.09,"hi":0.71}]},
"mark":{"type":"rect","stroke":"#333","strokeWidth":1,"color":{"gradient":"linear","x1":0,"y1":1,"x2":0,"y2":0,"stops":[{"offset":0,"color":"#20ff80"},{"offset":0.2,"color":"#20ff20"},{"offset":0.4,"color":"#90ff20"},{"offset":0.6,"color":"#ffff20"},{"offset":0.8,"color":"#ff9020"},{"offset":1,"color":"#ff3020"}]}},
"encoding":{"y":{"field":"lo","type":"quantitative","scale":{"domain":[0.0506,0.79],"nice":false,"zero":false},"axis":{"orient":"right","values":[0.1,0.2,0.3,0.4,0.5,0.6,0.7],"format":".2f","domain":false,"ticks":false,"grid":false,"title":null,"labelFont":"Liberation Serif","labelFontSize":9.5,"labelColor":"#222","labelPadding":2}},"y2":{"field":"hi"}}},
{"width":14,"height":175,"data":{"values":[{"lo":0.09,"hi":0.71}]},
"mark":{"type":"rect","stroke":"#333","strokeWidth":1,"color":{"gradient":"linear","x1":0,"y1":1,"x2":0,"y2":0,"stops":[{"offset":0,"color":"#20ff80"},{"offset":0.2,"color":"#20ff20"},{"offset":0.4,"color":"#90ff20"},{"offset":0.6,"color":"#ffff20"},{"offset":0.8,"color":"#ff9020"},{"offset":1,"color":"#ff3020"}]}},
"encoding":{"y":{"field":"lo","type":"quantitative","scale":{"domain":[0.0506,0.79],"nice":false,"zero":false},"axis":{"orient":"right","values":[0.1,0.2,0.3,0.4,0.5,0.6,0.7],"format":".2f","domain":false,"ticks":false,"grid":false,"title":null,"labelFont":"Liberation Serif","labelFontSize":9.5,"labelColor":"#222","labelPadding":2}},"y2":{"field":"hi"}}},
{"width":14,"height":175,"data":{"values":[{"lo":0.09,"hi":0.71}]},
"mark":{"type":"rect","stroke":"#333","strokeWidth":1,"color":{"gradient":"linear","x1":0,"y1":1,"x2":0,"y2":0,"stops":[{"offset":0,"color":"#20ff80"},{"offset":0.2,"color":"#20ff20"},{"offset":0.4,"color":"#90ff20"},{"offset":0.6,"color":"#ffff20"},{"offset":0.8,"color":"#ff9020"},{"offset":1,"color":"#ff3020"}]}},
"encoding":{"y":{"field":"lo","type":"quantitative","scale":{"domain":[0.0506,0.79],"nice":false,"zero":false},"axis":{"orient":"right","values":[0.1,0.2,0.3,0.4,0.5,0.6,0.7],"format":".2f","domain":false,"ticks":false,"grid":false,"title":null,"labelFont":"Liberation Serif","labelFontSize":9.5,"labelColor":"#222","labelPadding":2}},"y2":{"field":"hi"}}}
]},
{"title":{"text":["Oil Recovery","(%)"],"font":"Liberation Serif","fontSize":21.5,"fontWeight":"normal","color":"#111","lineHeight":27,"anchor":"middle","offset":-18},
"spacing":0,"vconcat":[
{"width":130,"height":175,"data":{"values":[{"recovery":56.18}]},"mark":{"type":"text","font":"Liberation Serif","fontSize":23,"color":"#111","dy":-2},"encoding":{"text":{"field":"recovery","type":"quantitative","format":".2f"}}},
{"width":130,"height":175,"data":{"values":[{"recovery":57.03}]},"mark":{"type":"text","font":"Liberation Serif","fontSize":23,"color":"#111","dy":-2},"encoding":{"text":{"field":"recovery","type":"quantitative","format":".2f"}}},
{"width":130,"height":175,"data":{"values":[{"recovery":57.36}]},"mark":{"type":"text","font":"Liberation Serif","fontSize":23,"color":"#111","dy":-2},"encoding":{"text":{"field":"recovery","type":"quantitative","format":".2f"}}},
{"width":130,"height":175,"data":{"values":[{"recovery":57.81}]},"mark":{"type":"text","font":"Liberation Serif","fontSize":23,"color":"#111","dy":-2},"encoding":{"text":{"field":"recovery","type":"quantitative","format":".2f"}}}
]}
]
}
